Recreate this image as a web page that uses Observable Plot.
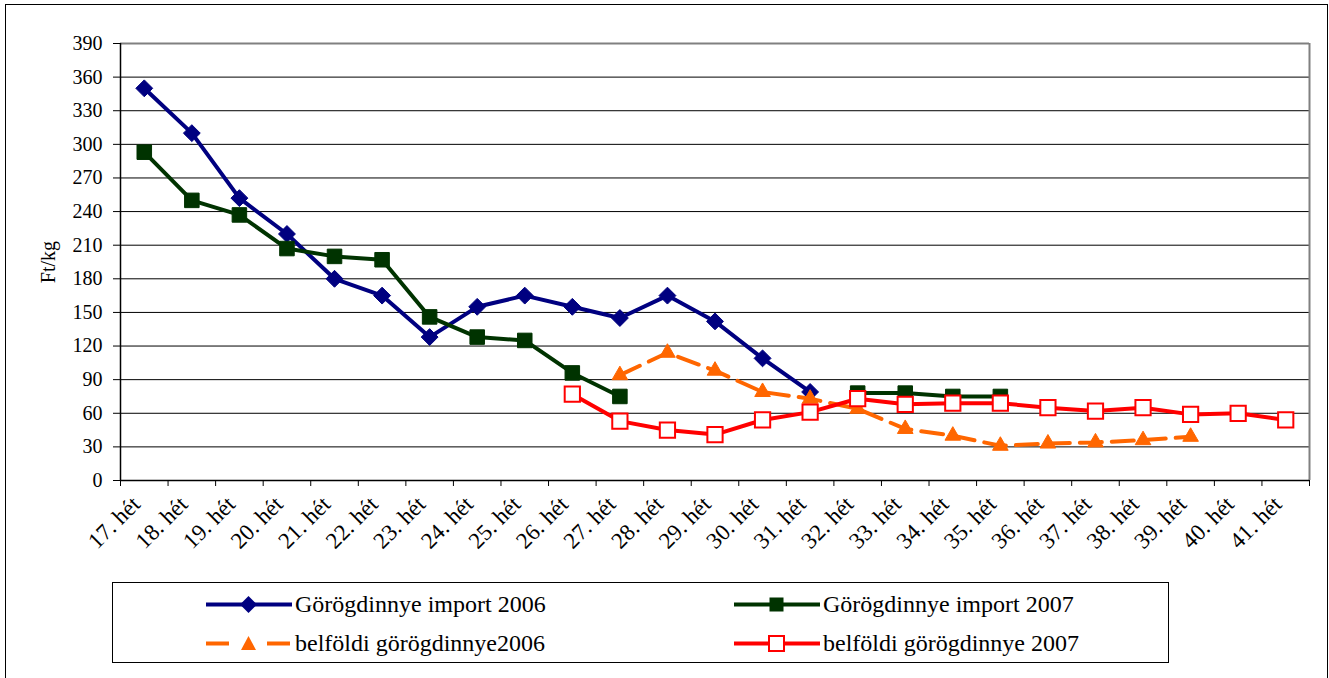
<!DOCTYPE html>
<html>
<head>
<meta charset="utf-8">
<script src="https://cdn.jsdelivr.net/npm/d3@7"></script>
<script src="https://cdn.jsdelivr.net/npm/@observablehq/plot@0.6"></script>
<style>
  html, body { margin: 0; padding: 0; background: #fff; overflow: hidden; }
  #wrap { position: relative; width: 1329px; height: 678px; overflow: hidden; font-family: 'Liberation Serif', serif; }
  #frame { position: absolute; left: 5px; top: 4px; width: 1323px; height: 720px; border: 1.5px solid #000; box-sizing: border-box; }
  #chart { position: absolute; left: 0; top: 0; }
  #legend { position: absolute; left: 112px; top: 582px; width: 1057px; height: 81px; border: 1px solid #000; box-sizing: border-box; background: #fff; }
  .item { position: absolute; height: 33px; display: flex; align-items: center; font-family: 'Liberation Serif', serif; font-size: 24px; color: #000; white-space: nowrap; }
  .item svg { margin-right: 3px; }
</style>
</head>
<body>
<div id="wrap">
  <div id="frame"></div>
  <div id="chart"></div>
  <div id="legend"></div>
</div>
<script>
// ---- data ----
const weeks = [17, 18, 19, 20, 21, 22, 23, 24, 25, 26, 27, 28, 29, 30, 31, 32, 33, 34, 35, 36, 37, 38, 39, 40, 41];
const weekLabels = ["17. hét","18. hét","19. hét","20. hét","21. hét","22. hét","23. hét","24. hét","25. hét","26. hét","27. hét","28. hét","29. hét","30. hét","31. hét","32. hét","33. hét","34. hét","35. hét","36. hét","37. hét","38. hét","39. hét","40. hét","41. hét"];
const import2006 = [350, 310, 252, 220, 180, 165, 128, 155, 165, 155, 145, 165, 142, 109, 79, null, null, null, null, null, null, null, null, null, null];
const import2007 = [293, 250, 237, 207, 200, 197, 146, 128, 125, 96, 75, null, null, null, null, 78, 78, 75, 75, null, null, null, null, null, null];
const belfoldi2006 = [null, null, null, null, null, null, null, null, null, null, 94, 114, 98, 79, 73, 64, 46, 40, 31, 33, 34, 36, 39, null, null];
const belfoldi2007 = [null, null, null, null, null, null, null, null, null, 77, 53, 45, 41, 54, 61, 73, 68, 69, 69, 65, 62, 65, 59, 60, 54];
const yTicks = [0, 30, 60, 90, 120, 150, 180, 210, 240, 270, 300, 330, 360, 390];
const seriesNames = ["Görögdinnye import 2006", "Görögdinnye import 2007", "belföldi görögdinnye2006", "belföldi görögdinnye 2007"];

// ---- build ----
const toRows = (vals) => weeks.map((w, i) => ({week: w, value: vals[i]}));
const rowsA = toRows(import2006);
const rowsB = toRows(import2007);
const rowsC = toRows(belfoldi2006);
const rowsD = toRows(belfoldi2007);
const bounds = [...weeks.map(w => w - 0.5), weeks[weeks.length - 1] + 0.5];
const labelOf = new Map(weeks.map((w, i) => [w, weekLabels[i]]));
const FONT = "'Liberation Serif', serif";

const chart = Plot.plot({
  width: 1329,
  height: 578,
  marginLeft: 120,
  marginRight: 20,
  marginTop: 43,
  marginBottom: 98,
  style: {fontFamily: FONT, fontSize: "20px", background: "transparent", overflow: "visible"},
  x: {type: "linear", domain: [16.5, 41.5], axis: null},
  y: {domain: [0, 390], axis: null},
  marks: [
    Plot.gridY(yTicks.filter(t => t > 0 && t < 390), {stroke: "#000", strokeOpacity: 1, strokeWidth: 1}),
    Plot.ruleY([390], {stroke: "#808080", strokeWidth: 2}),
    Plot.ruleX([41.5], {stroke: "#808080", strokeWidth: 2}),
    Plot.ruleX([16.5], {stroke: "#000", strokeWidth: 1.5}),
    Plot.ruleY([0], {stroke: "#000", strokeWidth: 1.5}),
    Plot.axisY(yTicks, {anchor: "left", tickSize: 7, tickPadding: 11, fontSize: 20, fontFamily: FONT, label: null, tickFormat: d => String(d)}),
    Plot.axisX(bounds, {anchor: "bottom", tickSize: 6, tickFormat: () => "", label: null}),
    Plot.axisX(weeks, {anchor: "bottom", tickSize: 0, tickPadding: 20, tickRotate: -45, fontSize: 23, fontFamily: FONT, label: null, tickFormat: d => labelOf.get(d), dx: -8}),
    Plot.text(["Ft/kg"], {frameAnchor: "left", textAnchor: "middle", dx: -72, rotate: -90, fontSize: 20, fontFamily: FONT, fill: "#000"}),

    Plot.line(rowsA, {x: "week", y: "value", stroke: "#000080", strokeWidth: 4}),
    Plot.dot(rowsA.filter(d => d.value != null), {x: "week", y: "value", symbol: "diamond2", r: 7.6, fill: "#000080", stroke: "#000080", strokeWidth: 1}),

    Plot.line(rowsB, {x: "week", y: "value", stroke: "#003300", strokeWidth: 4}),
    Plot.dot(rowsB.filter(d => d.value != null), {x: "week", y: "value", symbol: "square", r: 8.2, fill: "#003300", stroke: "#003300", strokeWidth: 1}),

    Plot.line(rowsC, {x: "week", y: "value", stroke: "#FF6600", strokeWidth: 4, strokeDasharray: "22,10"}),
    Plot.dot(rowsC.filter(d => d.value != null), {x: "week", y: "value", symbol: "triangle", r: 5.8, fill: "#FF6600", stroke: "#FF6600", strokeWidth: 1}),

    Plot.line(rowsD, {x: "week", y: "value", stroke: "#FF0000", strokeWidth: 4}),
    Plot.dot(rowsD.filter(d => d.value != null), {x: "week", y: "value", symbol: "square", r: 8.6, fill: "#fff", stroke: "#FF0000", strokeWidth: 2})
  ]
});
document.getElementById("chart").appendChild(chart);

// ---- legend ----
const legend = document.getElementById("legend");
const swatches = [
  {color: "#000080", marker: `<path d="M42.5,8 L51,16.5 L42.5,25 L34,16.5 Z" fill="#000080"/>`, dash: null},
  {color: "#003300", marker: `<rect x="35.5" y="9.5" width="14" height="14" fill="#003300"/>`, dash: null},
  {color: "#FF6600", marker: `<path d="M42.5,9 L50,23 L35,23 Z" fill="#FF6600"/>`, dash: "23,38"},
  {color: "#FF0000", marker: `<rect x="35" y="9" width="15" height="15" fill="#fff" stroke="#FF0000" stroke-width="2"/>`, dash: null}
];
const pos = [[93, 5], [621, 5], [93, 44], [621, 44]];
seriesNames.forEach((name, i) => {
  const s = swatches[i];
  const div = document.createElement("div");
  div.className = "item";
  div.style.left = pos[i][0] + "px";
  div.style.top = pos[i][1] + "px";
  const dashAttr = s.dash ? `stroke-dasharray="${s.dash}"` : "";
  div.innerHTML = `<svg width="86" height="33" viewBox="0 0 86 33"><line x1="0" x2="86" y1="16.5" y2="16.5" stroke="${s.color}" stroke-width="4" ${dashAttr}/>${s.marker}</svg><span>${name}</span>`;
  legend.appendChild(div);
});
</script>
</body>
</html>
